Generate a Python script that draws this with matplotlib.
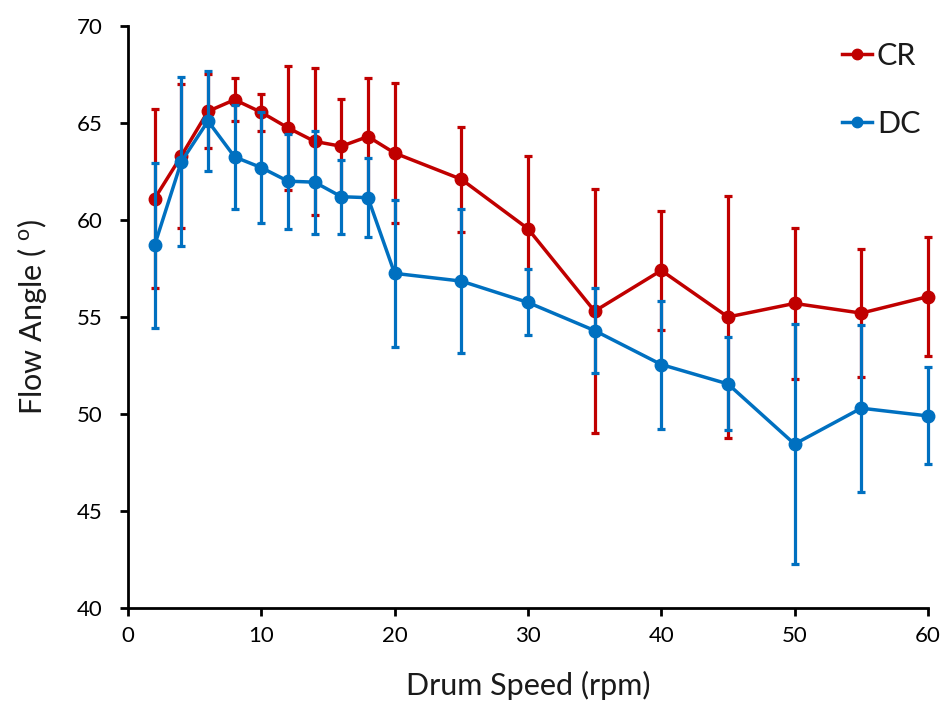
import matplotlib.pyplot as plt
from matplotlib.lines import Line2D

plt.rcParams['font.family'] = ['Lato', 'DejaVu Sans']

# drum speed (rpm)
speed = [2, 4, 6, 8, 10, 12, 14, 16, 18, 20, 25, 30, 35, 40, 45, 50, 55, 60]

# CR series: mean flow angle and error
cr_mean = [61.1, 63.3, 65.6, 66.2, 65.55, 64.75, 64.05, 63.8, 64.3, 63.45,
           62.1, 59.55, 55.3, 57.4, 55.0, 55.7, 55.2, 56.05]
cr_err = [4.6, 3.7, 1.9, 1.1, 0.95, 3.2, 3.8, 2.45, 3.0, 3.6,
          2.7, 3.75, 6.3, 3.05, 6.25, 3.9, 3.3, 3.05]

# DC series
dc_mean = [58.7, 63.0, 65.1, 63.25, 62.7, 62.0, 61.95, 61.2, 61.15, 57.25,
           56.85, 55.75, 54.3, 52.55, 51.55, 48.45, 50.3, 49.9]
dc_err = [4.25, 4.35, 2.6, 2.7, 2.85, 2.45, 2.65, 1.9, 2.05, 3.8,
          3.7, 1.7, 2.2, 3.3, 2.4, 6.2, 4.3, 2.5]

red = '#C00000'
blue = '#0070C0'

fig = plt.figure(figsize=(9.43, 7.06), dpi=100)
ax = fig.add_axes([0.1357, 0.1388, 0.8483, 0.8244])

for mean, err, c, z in [(cr_mean, cr_err, red, 3), (dc_mean, dc_err, blue, 4)]:
    art = ax.errorbar(speed, mean, yerr=err, color=c, marker='o', markersize=9,
                      linewidth=2.5, elinewidth=2.3, capsize=3, capthick=2.3, zorder=z)
    art[0].set_clip_on(False)
    for a in art[1] + art[2]:
        a.set_clip_on(False)

ax.set_xlim(0, 60)
ax.set_ylim(40, 70)
ax.set_xticks(range(0, 61, 10))
ax.set_yticks(range(40, 71, 5))

for s in ['top', 'right']:
    ax.spines[s].set_visible(False)
for s in ['left', 'bottom']:
    ax.spines[s].set_linewidth(2)
    ax.spines[s].set_color('black')
    ax.spines[s].set_zorder(5)

ax.tick_params(axis='both', direction='out', length=6, width=2, labelsize=16,
               colors='black')
ax.tick_params(axis='y', pad=12)
ax.tick_params(axis='x', pad=7)

ax.set_xlabel('Drum Speed (rpm)', fontsize=22, color='#1a1a1a', labelpad=18)
ax.set_ylabel('Flow Angle ( $^{\\mathregular{o}}$)', fontsize=22, color='#1a1a1a', labelpad=20)

handles = [Line2D([], [], color=red, marker='o', markersize=7.5, linewidth=2.5),
           Line2D([], [], color=blue, marker='o', markersize=7.5, linewidth=2.5)]
ax.legend(handles, ['CR', 'DC'], loc='upper right', bbox_to_anchor=(1.025, 1.02),
          frameon=False, fontsize=22, handlelength=1.0, labelspacing=1.3,
          handletextpad=0.15, labelcolor='#1a1a1a')

fig.savefig('out.png', dpi=100)
